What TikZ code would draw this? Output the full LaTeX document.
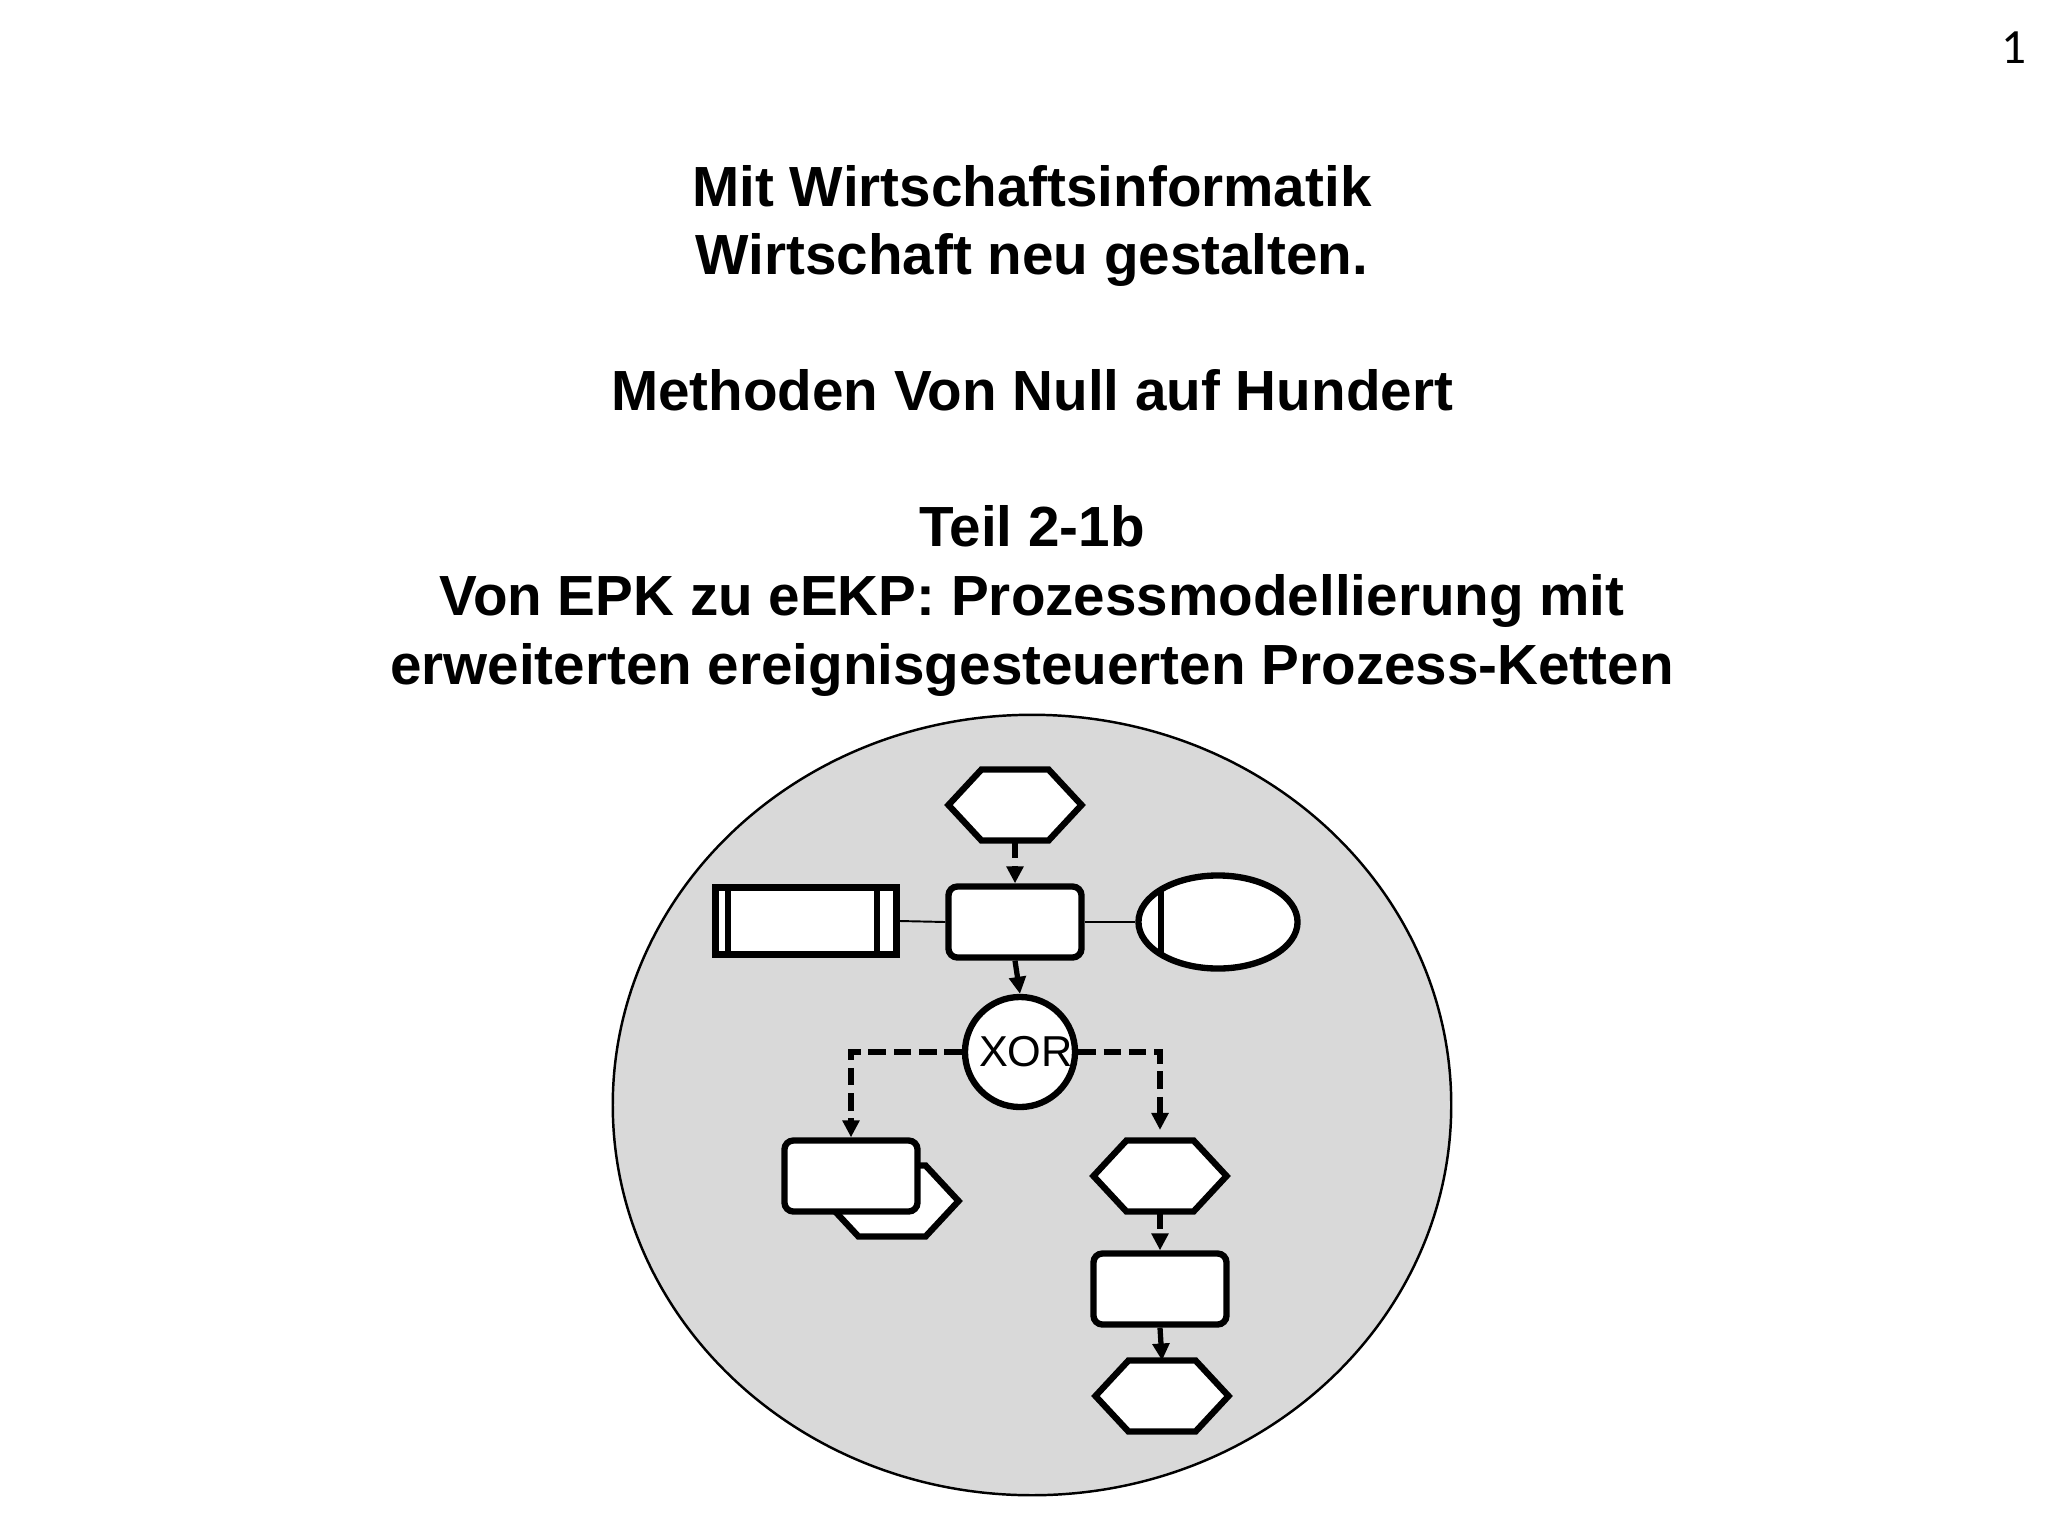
\documentclass[tikz,border=0pt]{standalone}
\usepackage{fontspec}
\setmainfont{Liberation Sans}
\newfontfamily\pagenumfont{Carlito}
\usetikzlibrary{arrows.meta,calc,shapes.geometric}
\definecolor{bgray}{RGB}{217,217,217}
\tikzset{
  titletext/.style={font=\fontsize{16.1}{19.5}\selectfont\bfseries, anchor=base, inner sep=0pt},
  shapeline/.style={draw=black, line width=1.8pt, fill=white},
  funcbox/.style={shapeline, rounded corners=0.09cm, minimum width=1.33cm, minimum height=0.71cm, inner sep=0pt},
  hexbox/.style={minimum width=1.33cm, minimum height=0.71cm, inner sep=0pt, outer sep=0pt},
  flow/.style={line width=1.5pt, dash pattern=on 5pt off 2.2pt, -{Triangle[length=0.17cm,width=0.165cm]}},
  solidflow/.style={line width=1.5pt, -{Triangle[length=0.17cm,width=0.165cm]}},
  assoc/.style={line width=0.55pt},
}
\newcommand\hexshape[1]{\draw[shapeline] (#1.west) -- ($(#1.north west)+(33,0)$) -- ($(#1.north east)+(-33,0)$) -- (#1.east) -- ($(#1.south east)+(-33,0)$) -- ($(#1.south west)+(33,0)$) -- cycle;}
\begin{document}
\begin{tikzpicture}[x=0.01cm, y=-0.01cm]
\fill[white] (0,0) rectangle (2048,1536);
\useasboundingbox (0,0) rectangle (2048,1536);

% page number
\node[font=\pagenumfont\fontsize{14}{14}\selectfont, anchor=base, inner sep=0pt] (pg) at (2014,63) {1};

% title lines
\node[titletext] (t1) at (1032,206) {Mit Wirtschaftsinformatik};
\node[titletext] (t2) at (1032,274) {Wirtschaft neu gestalten.};
\node[titletext] (t3) at (1032,410) {Methoden Von Null auf Hundert};
\node[titletext] (t4) at (1032,546) {Teil 2-1b};
\node[titletext] (t5) at (1032,615) {Von EPK zu eEKP: Prozessmodellierung mit};
\node[titletext] (t6) at (1032,684) {erweiterten ereignisgesteuerten Prozess-Ketten};

% background ellipse
\node[ellipse, draw=black, line width=0.7pt, fill=bgray, minimum width=8.38cm, minimum height=7.8cm, inner sep=0pt] (bg) at (1032,1105) {};

% top event
\node[hexbox] (E1) at (1015,805) {};
\hexshape{E1}

% function
\node[funcbox] (F1) at (1015,922) {};

% information object
\node[shapeline, rectangle, minimum width=1.81cm, minimum height=0.67cm, inner sep=0pt] (I1) at (806,921) {};
\draw[line width=1.8pt] ($(I1.north west)+(16,0)$) -- ($(I1.south west)+(16,0)$);
\draw[line width=1.8pt] ($(I1.north east)+(-23,0)$) -- ($(I1.south east)+(-23,0)$);

% organisational unit
\node[shapeline, ellipse, minimum width=1.59cm, minimum height=0.93cm, inner sep=0pt] (O1) at (1218,922) {};
\draw[line width=1.8pt] ($(O1.center)+(-57,-33)$) -- ($(O1.center)+(-57,33)$);

% XOR connector
\node[shapeline, circle, minimum size=1.09cm, inner sep=0pt, font=\fontsize{12.3}{12.3}\selectfont] (X) at (1020,1052) {\hspace*{0.12cm}XOR};

% process interface behind function
\node[hexbox] (P) at (892,1201) {};
\hexshape{P}
\node[funcbox] (F2) at (851,1176) {};

% right branch
\node[hexbox] (E2) at (1160,1176) {};
\hexshape{E2}
\node[funcbox] (F3) at (1160,1289) {};
\node[hexbox] (E3) at (1162,1396) {};
\hexshape{E3}

% connectors
\draw[assoc] (I1.east) -- (F1.west);
\draw[assoc] (F1.east) -- (O1.west);
\draw[flow] (E1.south) -- (F1.north);
\draw[flow] (F1.south) -- (X.north);
\draw[flow] (X.west) -| (F2.north);
\draw[flow, shorten >=3pt] (X.east) -| (E2.north);
\draw[flow] (E2.south) -- (F3.north);
\draw[solidflow] (F3.south) -- (E3.north);
\end{tikzpicture}
\end{document}
